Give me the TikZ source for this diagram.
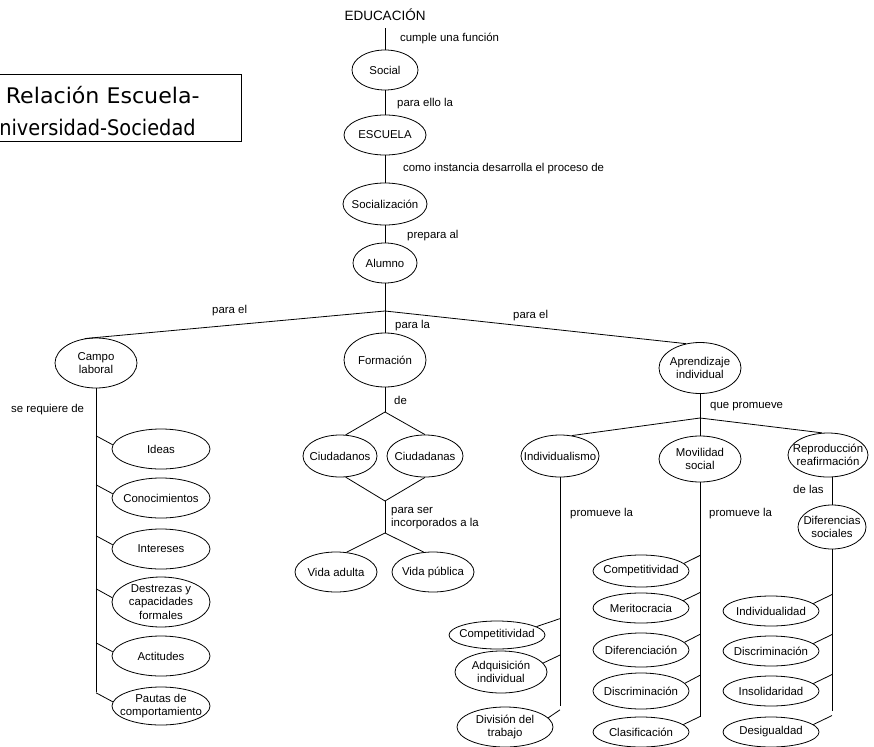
\documentclass[tikz,border=0pt]{standalone}
\usepackage{graphicx}
\usepackage{fontspec}
\setmainfont{Liberation Sans}
\newfontfamily\titlefont{DejaVu Sans}
\usetikzlibrary{shapes.geometric,calc}

\begin{document}
\begin{tikzpicture}[x=1pt,y=-1pt,
  every node/.style={font=\fontsize{11.4}{13.5}\selectfont},
  bub/.style n args={3}{draw, ellipse, inner sep=0pt, line width=0.8pt,
    minimum width=#1, minimum height=#2,
    label={[align=center, inner sep=0pt]center:#3}},
  lbl/.style={anchor=west, inner sep=0pt, align=left},
  link/.style={line width=0.8pt}]
\useasboundingbox (0,0) rectangle (874,746);
\clip (0,0) rectangle (874,746);

% title box
\node[draw, line width=0.8pt, anchor=north east, minimum height=67pt,
      inner xsep=42pt, inner ysep=0pt, align=right,
      font=\titlefont\fontsize{21.5}{32}\selectfont] (title) at (242,74)
  {\rule{0pt}{24pt}\scalebox{1.03}[1]{Relación Escuela-}\\\scalebox{0.9}[1]{Universidad-Sociedad}\hspace*{4pt}};

% main chain
\node[inner sep=0pt, inner ysep=7pt, font=\fontsize{13.5}{15}\selectfont] (edu) at (385,15) {EDUCACIÓN};
\node[bub={66pt}{40pt}{Social}] (social) at (385,70) {};
\node[bub={82pt}{40pt}{ESCUELA}] (escuela) at (385,135) {};
\node[bub={84pt}{42pt}{Socialización}] (socializ) at (385,204) {};
\node[bub={64pt}{40pt}{Alumno}] (alumno) at (385,263) {};
\coordinate (j1) at (385,311);

% second level
\node[bub={82pt}{50pt}{Campo\\laboral}] (campo) at (96,363) {};
\node[bub={82pt}{54pt}{Formación}] (formacion) at (385,360) {};
\node[bub={82pt}{51pt}{Aprendizaje\\individual}] (aprend) at (700,368) {};

% Campo laboral branch
\node[bub={98pt}{40pt}{Ideas}] (ideas) at (161,449) {};
\node[bub={98pt}{40pt}{Conocimientos}] (conoc) at (161,498) {};
\node[bub={98pt}{40pt}{Intereses}] (intereses) at (161,549) {};
\node[bub={98pt}{50pt}{Destrezas y\\capacidades\\formales}] (destrezas) at (161,602) {};
\node[bub={98pt}{40pt}{Actitudes}] (actitudes) at (161,656) {};
\node[bub={98pt}{38pt}{Pautas de\\comportamiento}] (pautas) at (161,706) {};
\coordinate (s4) at (96,692);

% Formación branch
\coordinate (j2) at (385,412);
\node[bub={74pt}{42pt}{Ciudadanos}] (ciudadanos) at (340,456) {};
\node[bub={76pt}{42pt}{Ciudadanas}] (ciudadanas) at (425,456) {};
\coordinate (j3) at (385,501);
\coordinate (j4) at (385,533);
\node[bub={82pt}{40pt}{Vida adulta}] (vadulta) at (336,572) {};
\node[bub={82pt}{40pt}{Vida pública}] (vpublica) at (433,572) {};

% Aprendizaje branch
\coordinate (j5) at (700,418);
\node[bub={78pt}{42pt}{Individualismo}] (individualismo) at (560,456) {};
\node[bub={82pt}{46pt}{Movilidad\\social}] (movilidad) at (700,459) {};
\node[bub={80pt}{44pt}{Reproducción\\reafirmación}] (reproduccion) at (828,455) {};
\node[bub={68pt}{44pt}{Diferencias\\sociales}] (diferencias) at (832,527) {};

\node[bub={96pt}{28pt}{Competitividad}] (comp1) at (497,635) {};
\node[bub={92pt}{42pt}{Adquisición\\individual}] (adq) at (501,672) {};
\node[bub={96pt}{40pt}{División del\\trabajo}] (division) at (505,727) {};
\coordinate (s1) at (560,706);

\node[bub={96pt}{32pt}{Competitividad}] (comp2) at (641,571) {};
\node[bub={96pt}{30pt}{Meritocracia}] (merito) at (641,608) {};
\node[bub={96pt}{34pt}{Diferenciación}] (diferenciacion) at (641,650) {};
\node[bub={96pt}{36pt}{Discriminación}] (discrim1) at (641,691) {};
\node[bub={96pt}{30pt}{Clasificación}] (clasif) at (641,732) {};
\coordinate (s2) at (700,717);

\node[bub={96pt}{30pt}{Individualidad}] (individualidad) at (771,611) {};
\node[bub={96pt}{30pt}{Discriminación}] (discrim2) at (771,651) {};
\node[bub={96pt}{30pt}{Insolidaridad}] (insolid) at (771,691) {};
\node[bub={96pt}{30pt}{Desigualdad}] (desig) at (771,732) {};
\coordinate (s3) at (832,711);

% connector labels
\node[lbl] (l1) at (400,38) {cumple una función};
\node[lbl] (l2) at (397,104) {para ello la};
\node[lbl] (l3) at (403,169) {como instancia desarrolla el proceso de};
\node[lbl] (l4) at (407,236) {prepara al};
\node[lbl] (l5) at (212,311) {para el};
\node[lbl] (l6) at (395,326) {para la};
\node[lbl] (l7) at (513,316) {para el};
\node[lbl] (l8) at (11,410) {se requiere de};
\node[lbl] (l9) at (394,400) {de};
\node[lbl] (l10) at (391,518) {para ser\\incorporados a la};
\node[lbl] (l11) at (710,407) {que promueve};
\node[lbl] (l12) at (570,514) {promueve la};
\node[lbl] (l13) at (709,514) {promueve la};
\node[lbl] (l14) at (793,489) {de las};

% connectors
\draw[link] (edu.south) -- (social.north);
\draw[link] (social.south) -- (escuela.north);
\draw[link] (escuela.south) -- (socializ.north);
\draw[link] (socializ.south) -- (alumno.north);
\draw[link] (alumno.south) -- (j1);
\draw[link] (j1) -- (formacion.north);
\draw[link] (j1) -- (campo.115);
\draw[link] (j1) -- (aprend.120);

\draw[link] (campo.south) -- (s4);
\foreach \n in {ideas,conoc,intereses,destrezas,actitudes,pautas}
  \draw[link] (\n.175) -- ($(\n.175 -| s4)+(0,-9)$);

\draw[link] (formacion.south) -- (j2);
\draw[link] (j2) -- (ciudadanos.75);
\draw[link] (j2) -- (ciudadanas.north);
\draw[link] (ciudadanos.285) -- (j3);
\draw[link] (ciudadanas.south) -- (j3);
\draw[link] (j3) -- (j4);
\draw[link] (j4) -- (vadulta.62);
\draw[link] (j4) -- (vpublica.115);

\draw[link] (aprend.south) -- (j5);
\draw[link] (j5) -- (individualismo.60);
\draw[link] (j5) -- (movilidad.north);
\draw[link] (j5) -- (reproduccion.105);
\draw[link] (diferencias.north) -- (diferencias.north |- reproduccion.south);

\draw[link] (individualismo.south) -- (s1);
\foreach \n in {comp1,adq,division}
  \draw[link] (\n.12) -- ($(\n.12 -| s1)+(0,-8)$);

\draw[link] (movilidad.south) -- (s2);
\foreach \n in {comp2,merito,diferenciacion,discrim1,clasif}
  \draw[link] (\n.10) -- ($(\n.10 -| s2)+(0,-8)$);

\draw[link] (diferencias.south) -- (s3);
\foreach \n in {individualidad,discrim2,insolid,desig}
  \draw[link] (\n.10) -- ($(\n.10 -| s3)+(0,-9)$);
\end{tikzpicture}
\end{document}
